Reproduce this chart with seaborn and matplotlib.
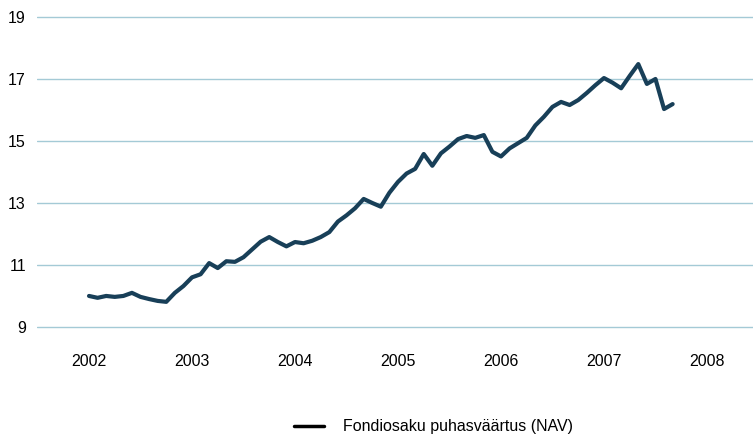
import numpy as np
import pandas as pd
import matplotlib
matplotlib.use("Agg")
import matplotlib.pyplot as plt
import seaborn as sns

# monthly NAV values, Jan 2002 .. Sep 2007
nav = [10.0, 9.94, 10.0, 9.97, 10.0, 10.1, 9.97, 9.9, 9.84, 9.81, 10.1, 10.32,
       10.6, 10.7, 11.06, 10.9, 11.12, 11.1, 11.25, 11.5, 11.75, 11.9, 11.74, 11.6,
       11.74, 11.7, 11.78, 11.9, 12.06, 12.4, 12.6, 12.83, 13.13, 13.0, 12.88, 13.33,
       13.68, 13.95, 14.1, 14.58, 14.2, 14.6, 14.82, 15.06, 15.16, 15.1, 15.19, 14.65,
       14.5, 14.76, 14.93, 15.1, 15.5, 15.78, 16.1, 16.26, 16.16, 16.32, 16.55, 16.8,
       17.03, 16.88, 16.7, 17.1, 17.48, 16.84, 17.0, 16.03, 16.19]
start_year = 2002
years = [2002, 2003, 2004, 2005, 2006, 2007, 2008]
yticks = [9, 11, 13, 15, 17, 19]
label = "Fondiosaku puhasväärtus (NAV)"

df = pd.DataFrame({"t": start_year + np.arange(len(nav)) / 12, "nav": nav})

sns.set_style("white")
plt.rcParams["font.family"] = ["Liberation Sans", "DejaVu Sans"]
plt.rcParams["text.color"] = "black"

fig = plt.figure(figsize=(7.53, 4.34), dpi=100)
# 31 px per unit on y, small margin so the 9 and 19 gridlines are not clipped
ax = fig.add_axes([37 / 753, 105.5 / 434, 716 / 753, 314 / 434])

sns.lineplot(data=df, x="t", y="nav", ax=ax, color="#183f58", linewidth=3.0,
             label=label, clip_on=False)

ax.set_xlim(2001.495, 2008.447)
ax.set_ylim(8.95, 19.08)
ax.set_xticks(years)
ax.set_xticklabels([str(y) for y in years])
ax.set_yticks(yticks)
ax.tick_params(axis="x", length=0, pad=18, labelsize=11.5, labelcolor="black")
ax.tick_params(axis="y", length=0, pad=8, labelsize=11.5, labelcolor="black")
ax.yaxis.grid(True, color="#a4cad6", linewidth=1.0)
ax.xaxis.grid(False)
for s in ax.spines.values():
    s.set_visible(False)
ax.set_xlabel("")
ax.set_ylabel("")

leg = ax.legend(loc="center left", bbox_to_anchor=(286 / 753, 7 / 434),
                bbox_transform=fig.transFigure, frameon=False, fontsize=11.5,
                handlelength=1.85, handletextpad=1.2, borderpad=0)
for h in leg.get_lines():
    h.set_color("black")
    h.set_linewidth(2.5)
for t in leg.get_texts():
    t.set_color("black")

fig.savefig("out.png", dpi=100)
